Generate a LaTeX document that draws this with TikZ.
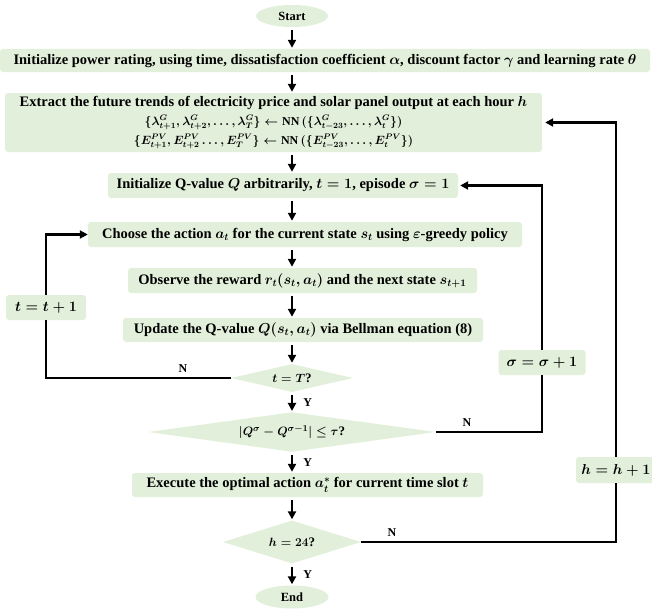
\documentclass[tikz,border=0pt]{standalone}
\usepackage{fontspec}
\setmainfont{Liberation Serif}
\usetikzlibrary{shapes.geometric,arrows.meta,calc}
\definecolor{boxg}{HTML}{E2EFDA}
\newcommand{\fmlsize}{\fontsize{12}{19}\selectfont\boldmath}
\begin{document}
\begin{tikzpicture}[x=1pt,y=-1pt,
  txt/.style={font=\fontsize{14.5}{17}\selectfont\bfseries\boldmath, text=black},
  box/.style={rectangle, fill=boxg, rounded corners=3pt, inner sep=0pt, txt},
  incbox/.style={box, font=\fontsize{14}{17}\selectfont\bfseries\boldmath},
  dia/.style={diamond, fill=boxg, inner sep=0pt, shape aspect=4, font=\fontsize{13}{15}\selectfont\bfseries\boldmath},
  term/.style={ellipse, fill=boxg, inner sep=0pt, font=\fontsize{12.5}{15}\selectfont\bfseries},
  ln/.style={line width=2.6pt},
  arr/.style={ln, -{Triangle[length=8pt,width=8pt]}},
  varr/.style={arr, shorten <=3pt, shorten >=1pt},
  lbl/.style={font=\fontsize{12}{14}\selectfont\bfseries, inner sep=0pt}]
\useasboundingbox (0,0) rectangle (652,610);
% nodes
\node[term, minimum width=72pt, minimum height=22pt] (start) at (292,16) {Start};
\node[box, minimum width=650pt, minimum height=23pt] (init) at (325,60.5)
  {Initialize power rating, using time, dissatisfaction coefficient $\alpha$, discount factor $\gamma$ and learning rate $\theta$};
\node[box, minimum width=537pt, minimum height=59pt, align=center,
  font=\fontsize{14.5}{19}\selectfont\bfseries\boldmath] (extract) at (273.5,122.5)
  {Extract the future trends of electricity price and solar panel output at each hour $h$\\
   {\fmlsize$\{\lambda^G_{t+1},\lambda^G_{t+2},\dots,\lambda^G_T\}\leftarrow\mathrm{NN}\,(\{\lambda^G_{t-23},\dots,\lambda^G_t\})$}\\
   {\fmlsize$\{E^{PV}_{t+1},E^{PV}_{t+2}\dots,E^{PV}_T\}\leftarrow\mathrm{NN}\,(\{E^{PV}_{t-23},\dots,E^{PV}_t\})$}};
\node[box, minimum width=350pt, minimum height=25pt] (initq) at (283,185.5)
  {Initialize Q-value $Q$ arbitrarily, $t=1$, episode $\sigma=1$};
\node[box, minimum width=434pt, minimum height=25pt] (choose) at (305,234.5)
  {Choose the action $a_t$ for the current state $s_t$ using $\varepsilon$-greedy policy};
\node[box, minimum width=349pt, minimum height=25pt] (observe) at (302.5,280.5)
  {Observe the reward $r_t(s_t,a_t)$ and the next state $s_{t+1}$};
\node[box, minimum width=360pt, minimum height=24pt] (update) at (303,330)
  {Update the Q-value $Q(s_t,a_t)$ via Bellman equation (8)};
\node[dia, minimum width=122pt, minimum height=28pt] (tdiam) at (292,378) {$t=T$?};
\node[dia, minimum width=287pt, minimum height=35pt] (qdiam) at (292,432)
  {$|Q^{\sigma}-Q^{\sigma-1}|\le\tau$?};
\node[box, minimum width=351pt, minimum height=24pt] (exec) at (307.5,485)
  {Execute the optimal action $a^*_t$ for current time slot $t$};
\node[dia, minimum width=138pt, minimum height=43pt] (hdiam) at (292,542) {$h=24$?};
\node[term, minimum width=73pt, minimum height=23pt] (end) at (292,597) {End};
\node[incbox, minimum width=80pt, minimum height=25pt] (tinc) at (46,307.5) {$t=t+1$};
\node[incbox, minimum width=87pt, minimum height=25pt] (sinc) at (542,362.5) {$\sigma=\sigma+1$};
\node[incbox, minimum width=80pt, minimum height=26pt] (hinc) at (616,470) {$h=h+1$};
% main column arrows
\draw[varr] (start.south) -- (init.north -| start);
\draw[varr] (init.south -| start) -- (extract.north -| start);
\draw[varr] (extract.south -| start) -- (initq.north -| start);
\draw[varr] (initq.south -| start) -- (choose.north -| start);
\draw[varr] (choose.south -| start) -- (observe.north -| start);
\draw[varr] (observe.south -| start) -- (update.north -| start);
\draw[varr] (update.south -| start) -- (tdiam.north);
\draw[varr] (tdiam.south) -- (qdiam.north) node[midway, right=10pt, lbl] (y1) {Y};
\draw[varr] (qdiam.south) -- (exec.north -| start) node[midway, right=10pt, lbl] (y2) {Y};
\draw[varr] (exec.south -| start) -- (hdiam.north);
\draw[varr] (hdiam.south) -- (end.north) node[midway, right=10pt, lbl] (y3) {Y};
% loops
\draw[ln] (tdiam.west) -| (tinc.south);
\draw[arr] (tinc.north) |- (choose.west);
\draw[ln] (qdiam.east) -| (sinc.south);
\draw[arr, shorten >=2pt] (sinc.north) |- (initq.east);
\draw[ln] (hdiam.east) -| (hinc.south);
\draw[arr, shorten >=3pt] (hinc.north) |- (extract.east);
% N labels
\node[lbl] (n1) at (183,369) {N};
\node[lbl] (n2) at (467,423) {N};
\node[lbl] (n3) at (392,533) {N};
\end{tikzpicture}
\end{document}
